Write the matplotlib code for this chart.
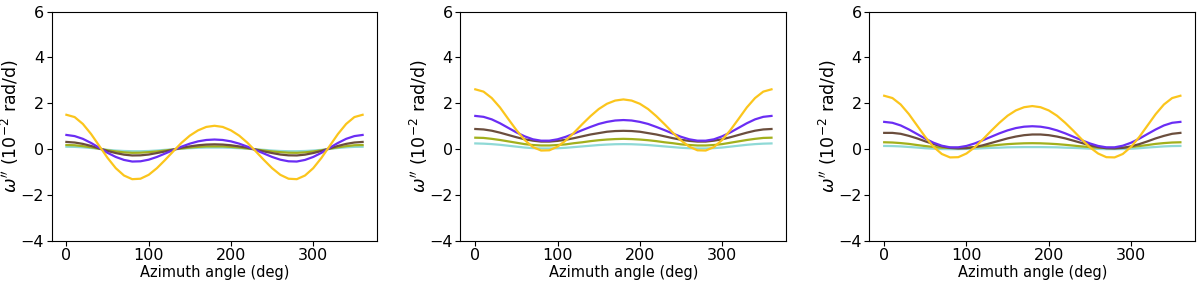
import matplotlib
matplotlib.use("Agg")
import matplotlib.pyplot as plt

# azimuth sampling (deg), every 10 deg
AZIMUTH = [0, 10, 20, 30, 40, 50, 60, 70, 80, 90, 100, 110, 120, 130, 140, 150, 160, 170, 180,
           190, 200, 210, 220, 230, 240, 250, 260, 270, 280, 290, 300, 310, 320, 330, 340, 350, 360]

# panel 1 (values in 1e-2 rad/d)
p1_yellow = [1.50, 1.40, 1.10, 0.66, 0.14, -0.38, -0.83, -1.15, -1.31, -1.29, -1.12, -0.83, -0.47,
             -0.09, 0.28, 0.59, 0.82, 0.97, 1.02, 0.97, 0.82, 0.59, 0.28, -0.09, -0.47, -0.83,
             -1.12, -1.29, -1.31, -1.15, -0.83, -0.38, 0.14, 0.66, 1.10, 1.40, 1.50]
p1_purple = [0.62, 0.57, 0.45, 0.27, 0.06, -0.16, -0.34, -0.47, -0.54, -0.53, -0.46, -0.34, -0.19,
             -0.04, 0.11, 0.24, 0.34, 0.40, 0.42, 0.40, 0.34, 0.24, 0.11, -0.04, -0.19, -0.34,
             -0.46, -0.53, -0.54, -0.47, -0.34, -0.16, 0.06, 0.27, 0.45, 0.57, 0.62]
p1_brown = [0.315, 0.29, 0.23, 0.14, 0.03, -0.08, -0.17, -0.24, -0.275, -0.27, -0.235, -0.17, -0.10,
            -0.02, 0.06, 0.12, 0.17, 0.20, 0.21, 0.20, 0.17, 0.12, 0.06, -0.02, -0.10, -0.17,
            -0.235, -0.27, -0.275, -0.24, -0.17, -0.08, 0.03, 0.14, 0.23, 0.29, 0.315]
p1_olive = [0.18, 0.17, 0.13, 0.08, 0.02, -0.05, -0.10, -0.14, -0.16, -0.155, -0.13, -0.10, -0.06,
            -0.01, 0.03, 0.07, 0.10, 0.12, 0.12, 0.12, 0.10, 0.07, 0.03, -0.01, -0.06, -0.10,
            -0.13, -0.155, -0.16, -0.14, -0.10, -0.05, 0.02, 0.08, 0.13, 0.17, 0.18]
p1_cyan = [0.105, 0.10, 0.08, 0.05, 0.01, -0.03, -0.06, -0.08, -0.09, -0.09, -0.08, -0.06, -0.03,
           -0.01, 0.02, 0.04, 0.06, 0.07, 0.07, 0.07, 0.06, 0.04, 0.02, -0.01, -0.03, -0.06,
           -0.08, -0.09, -0.09, -0.08, -0.06, -0.03, 0.01, 0.05, 0.08, 0.10, 0.105]

# panel 2
p2_yellow = [2.61, 2.51, 2.23, 1.82, 1.32, 0.83, 0.40, 0.09, -0.06, -0.05, 0.11, 0.38, 0.72,
             1.09, 1.44, 1.75, 1.98, 2.12, 2.17, 2.12, 1.98, 1.75, 1.44, 1.09, 0.72, 0.38,
             0.11, -0.05, -0.06, 0.09, 0.40, 0.83, 1.32, 1.82, 2.23, 2.51, 2.61]
p2_purple = [1.45, 1.41, 1.30, 1.13, 0.93, 0.73, 0.56, 0.43, 0.37, 0.37, 0.43, 0.54, 0.68,
             0.83, 0.97, 1.10, 1.19, 1.25, 1.27, 1.25, 1.19, 1.10, 0.97, 0.83, 0.68, 0.54,
             0.43, 0.37, 0.37, 0.43, 0.56, 0.73, 0.93, 1.13, 1.30, 1.41, 1.45]
p2_brown = [0.88, 0.86, 0.805, 0.72, 0.62, 0.52, 0.43, 0.37, 0.33, 0.33, 0.36, 0.41, 0.48,
            0.56, 0.64, 0.70, 0.76, 0.79, 0.80, 0.79, 0.76, 0.70, 0.64, 0.56, 0.48, 0.41,
            0.36, 0.33, 0.33, 0.37, 0.43, 0.52, 0.62, 0.72, 0.805, 0.86, 0.88]
p2_olive = [0.50, 0.49, 0.45, 0.40, 0.34, 0.28, 0.22, 0.18, 0.16, 0.16, 0.18, 0.21, 0.26,
            0.30, 0.35, 0.39, 0.42, 0.44, 0.45, 0.44, 0.42, 0.39, 0.35, 0.30, 0.26, 0.21,
            0.18, 0.16, 0.16, 0.18, 0.22, 0.28, 0.34, 0.40, 0.45, 0.49, 0.50]
p2_cyan = [0.25, 0.24, 0.22, 0.19, 0.15, 0.11, 0.07, 0.045, 0.03, 0.03, 0.04, 0.06, 0.09,
           0.12, 0.15, 0.18, 0.20, 0.215, 0.22, 0.215, 0.20, 0.18, 0.15, 0.12, 0.09, 0.06,
           0.04, 0.03, 0.03, 0.045, 0.07, 0.11, 0.15, 0.19, 0.22, 0.24, 0.25]

# panel 3
p3_yellow = [2.33, 2.23, 1.95, 1.53, 1.03, 0.53, 0.10, -0.21, -0.36, -0.35, -0.19, 0.08, 0.43,
             0.80, 1.15, 1.46, 1.69, 1.83, 1.88, 1.83, 1.69, 1.46, 1.15, 0.80, 0.43, 0.08,
             -0.19, -0.35, -0.36, -0.21, 0.10, 0.53, 1.03, 1.53, 1.95, 2.23, 2.33]
p3_purple = [1.19, 1.15, 1.035, 0.86, 0.66, 0.455, 0.28, 0.15, 0.08, 0.08, 0.14, 0.25, 0.39,
             0.54, 0.69, 0.82, 0.92, 0.98, 1.00, 0.98, 0.92, 0.82, 0.69, 0.54, 0.39, 0.25,
             0.14, 0.08, 0.08, 0.15, 0.28, 0.455, 0.66, 0.86, 1.035, 1.15, 1.19]
p3_brown = [0.71, 0.71, 0.67, 0.58, 0.47, 0.34, 0.22, 0.12, 0.055, 0.03, 0.04, 0.09, 0.17,
            0.27, 0.37, 0.47, 0.55, 0.61, 0.64, 0.64, 0.61, 0.55, 0.47, 0.37, 0.27, 0.17,
            0.09, 0.04, 0.03, 0.055, 0.12, 0.22, 0.34, 0.47, 0.58, 0.67, 0.71]
p3_olive = [0.30, 0.29, 0.265, 0.23, 0.18, 0.135, 0.095, 0.065, 0.05, 0.05, 0.065, 0.09, 0.12,
            0.155, 0.19, 0.22, 0.24, 0.255, 0.26, 0.255, 0.24, 0.22, 0.19, 0.155, 0.12, 0.09,
            0.065, 0.05, 0.05, 0.065, 0.095, 0.135, 0.18, 0.23, 0.265, 0.29, 0.30]
p3_cyan = [0.14, 0.135, 0.12, 0.095, 0.07, 0.04, 0.02, 0.005, 0.0, 0.0, 0.01, 0.02, 0.04,
           0.055, 0.065, 0.08, 0.085, 0.09, 0.09, 0.09, 0.085, 0.08, 0.065, 0.055, 0.04, 0.02,
           0.01, 0.0, 0.0, 0.005, 0.02, 0.04, 0.07, 0.095, 0.12, 0.135, 0.14]

PANELS = [
    [p1_cyan, p1_olive, p1_brown, p1_purple, p1_yellow],
    [p2_cyan, p2_olive, p2_brown, p2_purple, p2_yellow],
    [p3_cyan, p3_olive, p3_brown, p3_purple, p3_yellow],
]
COLORS = ["#8fd9d6", "#a2b01c", "#6b4e3d", "#6a2df4", "#fbc51c"]

plt.rcParams['font.family'] = ['DejaVu Sans']

fig, axes = plt.subplots(1, 3, figsize=(12, 2.84), dpi=100)
fig.subplots_adjust(left=0.043, right=0.996, bottom=0.152, top=0.959, wspace=0.255)

for ax, series in zip(axes, PANELS):
    for values, color in zip(series, COLORS):
        ax.plot(AZIMUTH, values, color=color, lw=1.6)
    ax.set_ylim(-4, 6)
    ax.set_yticks([-4, -2, 0, 2, 4, 6])
    ax.set_xticks([0, 100, 200, 300])
    ax.tick_params(labelsize=11.5, pad=2)
    ax.set_xlabel('Azimuth angle (deg)', fontsize=10.5, labelpad=1)
    ax.set_ylabel(r"$\omega^{\prime\prime}$ ($10^{-2}$ rad/d)", fontsize=12.5)
    ax.yaxis.set_label_coords(-0.094, 0.5)

fig.savefig('out.png', dpi=100)
